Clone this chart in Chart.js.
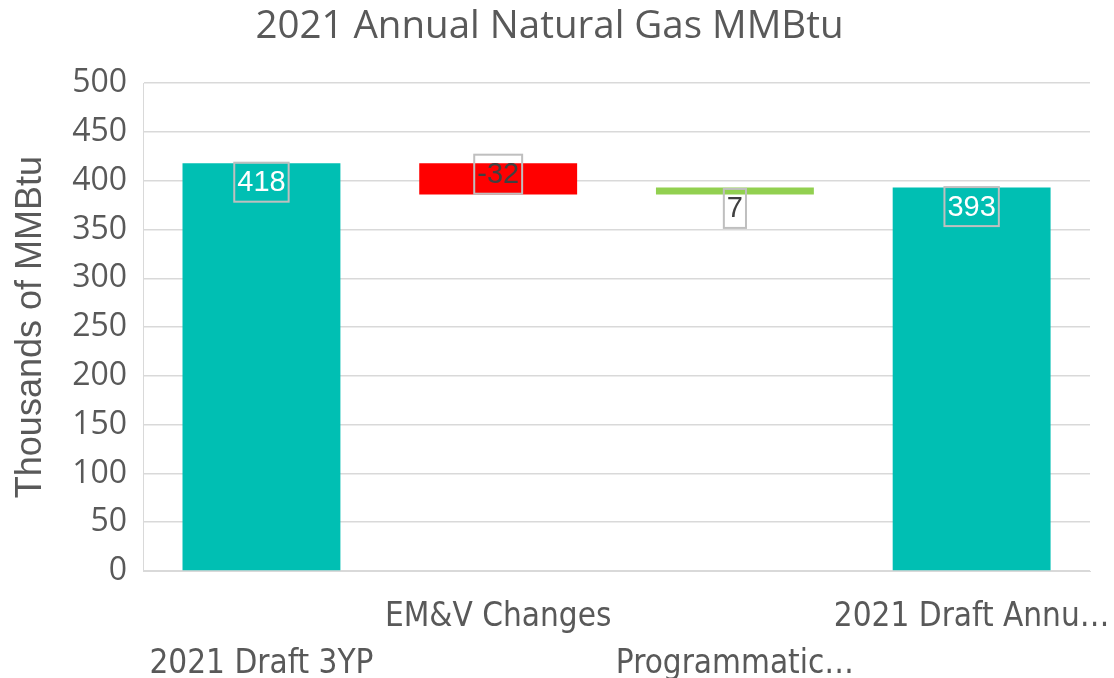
<!DOCTYPE html>
<html lang="en">
<head>
    <meta charset="UTF-8">
    <title>2021 Annual Natural Gas MMBtu</title>
    <script src="https://cdn.jsdelivr.net/npm/chart.js"></script>
    <style>
        body {
            margin: 0;
            padding: 0;
            background: #ffffff;
        }
        #wrap {
            width: 1114px;
            height: 678px;
        }
    </style>
</head>
<body>
    <div id="wrap"><canvas id="gasChart" width="1114" height="678"></canvas></div>

    <script>
        // waterfall data (thousands of MMBtu)
        const categories = [
            ['', '2021 Draft 3YP'],
            ['EM&V Changes', ''],
            ['', 'Programmatic\u2026'],
            ['2021 Draft Annu\u2026', '']
        ];
        const barStart = [0, 418, 386, 0];
        const barEnd = [418, 386, 393, 393];
        const labelValues = [418, -32, 7, 393];
        const barColors = ['#00bfb3', '#ff0000', '#92d050', '#00bfb3'];
        const yTicks = [0, 50, 100, 150, 200, 250, 300, 350, 400, 450, 500];

        const textGray = '#595959';

        const ranges = barStart.map((s, i) => [s, barEnd[i]]);

        // boxed value labels like the original
        const boxLabels = {
            id: 'boxLabels',
            afterDatasetsDraw(chart) {
                const ctx = chart.ctx;
                const meta = chart.getDatasetMeta(0);
                ctx.save();
                ctx.font = '29px "Liberation Sans", Arial, sans-serif';
                ctx.textAlign = 'center';
                ctx.textBaseline = 'middle';
                meta.data.forEach((bar, i) => {
                    const top = Math.min(bar.y, bar.base);
                    const bottom = Math.max(bar.y, bar.base);
                    let cy, color;
                    if (i === 0 || i === 3) {
                        cy = top + 19;
                        color = '#ffffff';
                    } else if (labelValues[i] < 0) {
                        cy = top + 11;
                        color = '#404040';
                    } else {
                        cy = bottom + 14;
                        color = '#404040';
                    }
                    const txt = String(labelValues[i]);
                    const w = ctx.measureText(txt).width + 6;
                    const h = 39;
                    ctx.strokeStyle = '#bfbfbf';
                    ctx.lineWidth = 2;
                    ctx.strokeRect(bar.x - w / 2, cy - h / 2, w, h);
                    ctx.fillStyle = color;
                    ctx.fillText(txt, bar.x, cy + 1);
                });
                ctx.restore();
            }
        };

        const ctx = document.getElementById('gasChart').getContext('2d');
        new Chart(ctx, {
            type: 'bar',
            data: {
                labels: categories,
                datasets: [{
                    data: ranges,
                    backgroundColor: barColors,
                    borderWidth: 0,
                    barPercentage: 0.667,
                    categoryPercentage: 1
                }]
            },
            options: {
                responsive: false,
                animation: false,
                layout: { padding: { left: 9, right: 24, top: 4, bottom: 0 } },
                plugins: {
                    legend: { display: false },
                    tooltip: { enabled: false },
                    title: {
                        display: true,
                        text: '2021 Annual Natural Gas MMBtu',
                        color: textGray,
                        font: { family: '"Open Sans", sans-serif', size: 38.5, weight: 'normal' },
                        padding: { top: 0, bottom: 33 }
                    }
                },
                scales: {
                    x: {
                        grid: { display: false },
                        border: { display: true, color: '#d9d9d9', width: 1 },
                        afterFit(axis) {
                            axis.height = 107;
                            // let the last label hang past the plot edge like the original
                            axis.paddingLeft = 0;
                            axis.paddingRight = 0;
                        },
                        ticks: {
                            color: textGray,
                            font: { family: '"Liberation Sans Narrow", "DejaVu Sans Condensed", sans-serif', size: 33, lineHeight: 1.42 },
                            maxRotation: 0,
                            autoSkip: false,
                            padding: 15
                        }
                    },
                    y: {
                        min: 0,
                        max: 500,
                        afterBuildTicks(axis) {
                            axis.ticks = yTicks.map(v => ({ value: v }));
                        },
                        grid: { color: '#d9d9d9', lineWidth: 1.5, drawTicks: false },
                        border: { display: true, color: '#d9d9d9' },
                        ticks: {
                            color: textGray,
                            font: { family: '"Open Sans", sans-serif', size: 32 },
                            padding: 16
                        },
                        title: {
                            display: true,
                            text: 'Thousands of MMBtu',
                            color: textGray,
                            font: { family: '"Liberation Sans", Arial, sans-serif', size: 36 },
                            padding: { top: 0, bottom: 4 }
                        }
                    }
                }
            },
            plugins: [boxLabels]
        });
    </script>
</body>
</html>
